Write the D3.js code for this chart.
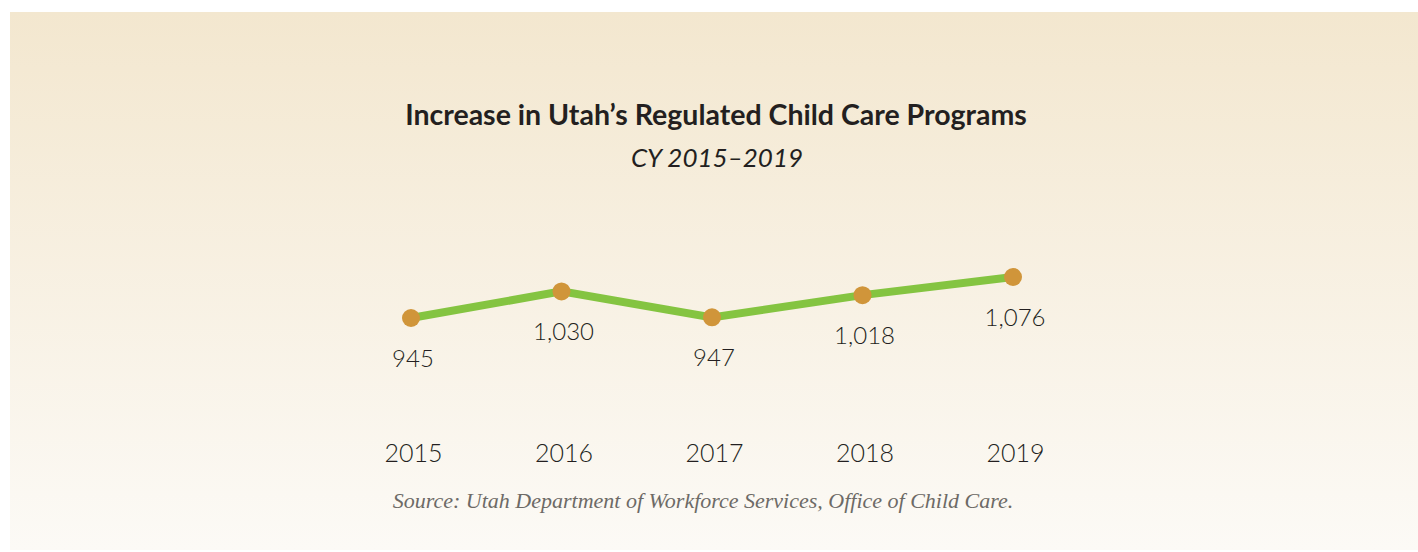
<!DOCTYPE html>
<html>
  <head>
    <meta charset="utf-8">
    <title>Utah child care programs</title>
    <style>
      body {margin:0; background:#fff}
      text {font-family: Lato, "Open Sans", sans-serif; fill:#231f20}
    </style>
  </head>
  <body>
    <script src="https://cdn.jsdelivr.net/npm/d3@7"></script>
    <script>
    const years = ['2015', '2016', '2017', '2018', '2019']
    const programs = [945, 1030, 947, 1018, 1076]
    const valueLabels = ['945', '1,030', '947', '1,018', '1,076']

    const w = 1418, h = 552

    const svg = d3.select('body').append('svg')
      .attr('width', w)
      .attr('height', h)

    const grad = svg.append('defs').append('linearGradient')
      .attr('id', 'bg')
      .attr('x1', 0).attr('y1', 0).attr('x2', 0).attr('y2', 1)
    grad.append('stop').attr('offset', '0%').attr('stop-color', '#f3e7cf')
    grad.append('stop').attr('offset', '100%').attr('stop-color', '#fcfaf6')

    svg.append('rect')
      .attr('x', 10).attr('y', 12)
      .attr('width', w - 10).attr('height', h - 14)
      .attr('fill', 'url(#bg)')

    // title block
    svg.append('text')
      .attr('x', 716).attr('y', 125)
      .attr('text-anchor', 'middle')
      .style('font-size', '28.5px')
      .style('font-weight', 700)
      .text('Increase in Utah\u2019s Regulated Child Care Programs')

    svg.append('text')
      .attr('x', 717).attr('y', 167)
      .attr('text-anchor', 'middle')
      .style('font-size', '26px')
      .style('font-style', 'italic')
      .style('font-weight', 400)
      .text('CY 2015\u20132019')

    const x = d3.scalePoint()
      .domain(years)
      .range([411, 1013])

    const y = d3.scaleLinear()
      .domain([945, 1076])
      .range([318, 277])

    const data = years.map((yr, i) => ({yr, v: programs[i], label: valueLabels[i]}))

    const line = d3.line()
      .x(d => x(d.yr))
      .y(d => y(d.v))

    svg.append('path')
      .attr('d', line(data))
      .attr('fill', 'none')
      .attr('stroke', '#84c441')
      .attr('stroke-width', 8)

    svg.selectAll('circle.pt')
      .data(data)
      .join('circle')
      .attr('class', 'pt')
      .attr('cx', d => x(d.yr))
      .attr('cy', d => y(d.v))
      .attr('r', 9)
      .attr('fill', '#d0953a')

    svg.selectAll('text.val')
      .data(data)
      .join('text')
      .attr('class', 'val')
      .attr('x', d => x(d.yr) + 2)
      .attr('y', d => y(d.v) + 49)
      .attr('text-anchor', 'middle')
      .style('font-size', '24px')
      .style('font-weight', 300)
      .text(d => d.label)

    // x axis, no line or ticks
    const xAxis = svg.append('g')
      .attr('transform', 'translate(2, 444)')
      .call(d3.axisBottom(x).tickSize(0).tickPadding(0))
    xAxis.select('.domain').remove()
    xAxis.selectAll('text')
      .attr('dy', '0.71em')
      .style('font-family', 'Lato, sans-serif')
      .style('font-size', '25px')
      .style('font-weight', 300)
      .style('fill', '#231f20')

    svg.append('text')
      .attr('x', 703).attr('y', 508)
      .attr('text-anchor', 'middle')
      .style('font-family', '"Liberation Serif", serif')
      .style('font-style', 'italic')
      .style('font-size', '22px')
      .style('fill', '#6d6a66')
      .text('Source: Utah Department of Workforce Services, Office of Child Care.')
    </script>
  </body>
</html>
